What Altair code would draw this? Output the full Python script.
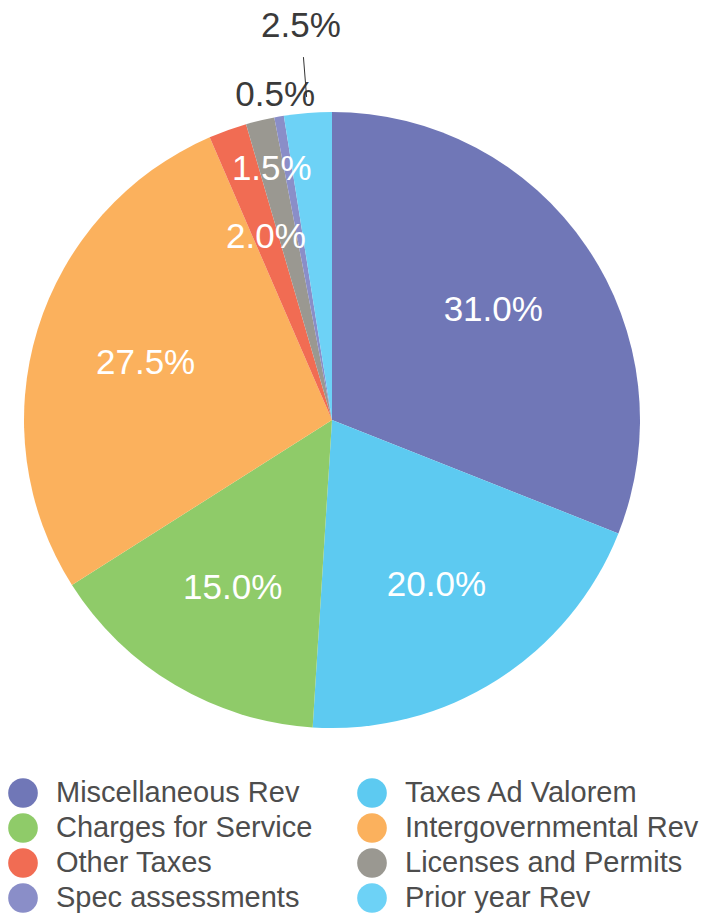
import altair as alt
import pandas as pd

categories = [
    "Miscellaneous Rev",
    "Taxes Ad Valorem",
    "Charges for Service",
    "Intergovernmental Rev",
    "Other Taxes",
    "Licenses and Permits",
    "Spec assessments",
    "Prior year Rev",
]
shares = [31.0, 20.0, 15.0, 27.5, 2.0, 1.5, 0.5, 2.5]
colors = ["#7077b7", "#5dcaf1", "#8fcb69", "#fbb15d", "#f16c53", "#9a9891", "#8a8ec8", "#6dd2f6"]

df = pd.DataFrame({"category": categories, "share": shares, "order": list(range(len(categories)))})

CX, CY, R = 324, 412, 308
FONT = "Liberation Sans"

arcs = alt.Chart(df).mark_arc(outerRadius=R).encode(
    x=alt.value(CX),
    y=alt.value(CY),
    theta=alt.Theta("share:Q", stack=True),
    order=alt.Order("order:Q"),
    color=alt.Color(
        "category:N",
        sort=categories,
        scale=alt.Scale(domain=categories, range=colors),
        legend=alt.Legend(
            title=None,
            orient="none",
            legendX=0,
            legendY=770,
            columns=2,
            direction="horizontal",
            symbolType="circle",
            symbolSize=880,
            symbolStrokeWidth=0,
            labelFont=FONT,
            labelFontSize=29,
            labelColor="#4d4d4d",
            labelOffset=18,
            labelLimit=400,
            columnPadding=44,
            rowPadding=5,
            padding=0,
        ),
    ),
)

# angles of slice midpoints, computed from the data
polar = (
    alt.Chart(df)
    .transform_window(cum="sum(share)", sort=[alt.SortField("order")], frame=[None, 0])
    .transform_calculate(mid="(datum.cum - datum.share / 2) / 100 * 2 * PI")
)

dark = "datum.category == 'Spec assessments' || datum.category == 'Prior year Rev'"

labels = (
    polar.transform_calculate(
        label="format(datum.share, '.1f') + '%'",
        lr="datum.category == 'Licenses and Permits' ? 258 : datum.category == 'Spec assessments' ? 330 : datum.category == 'Prior year Rev' ? 395 : 195",
    )
    .transform_calculate(
        lx=f"{CX} + datum.lr * sin(datum.mid)",
        ly=f"{CY} - datum.lr * cos(datum.mid)",
    )
    .mark_text(font=FONT, fontSize=35, align="center", baseline="middle")
    .encode(
        x=alt.X("lx:Q", scale=None),
        y=alt.Y("ly:Q", scale=None),
        text="label:N",
        color=alt.condition(dark, alt.value("#3a3a3a"), alt.value("white")),
    )
)

leader = (
    polar.transform_calculate(
        x1=f"{CX} + 324 * sin(datum.mid)",
        y1=f"{CY} - 324 * cos(datum.mid)",
        x2=f"{CX} + 364 * sin(datum.mid)",
        y2=f"{CY} - 364 * cos(datum.mid)",
    )
    .transform_filter("datum.category == 'Prior year Rev'")
    .mark_rule(color="#333333", strokeWidth=1)
    .encode(
        x=alt.X("x1:Q", scale=None),
        y=alt.Y("y1:Q", scale=None),
        x2="x2:Q",
        y2="y2:Q",
    )
)

chart = (
    alt.layer(arcs, labels, leader)
    .properties(
        width=700,
        height=906,
        padding=0,
        background="white",
        autosize=alt.AutoSizeParams(type="none"),
    )
    .configure_view(stroke=None)
)

chart.save("out.html", embed_options={"renderer": "svg", "actions": False})
